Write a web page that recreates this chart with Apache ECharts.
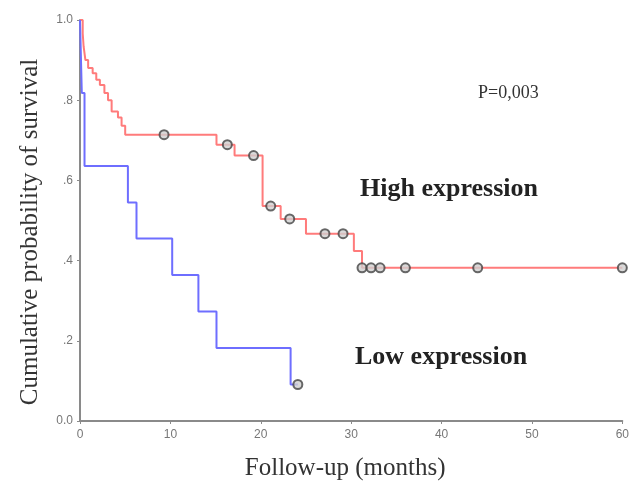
<!DOCTYPE html>
<html>
<head>
<meta charset="utf-8">
<script src="https://cdn.jsdelivr.net/npm/echarts@6/dist/echarts.min.js"></script>
<style>
  html, body { margin: 0; padding: 0; background: #fff; }
  #chart { width: 632px; height: 486px; }
</style>
</head>
<body>
<div id="chart"></div>
<script>
// 高表达组 (time in months, survival after the event)
var highTimes = [0, 0.3, 0.4, 0.6, 0.9, 1.4, 1.8, 2.2, 2.7, 3.1, 3.5, 4.2, 4.6, 5.0, 15.1, 17.1, 20.2, 22.2, 25.0, 30.3, 31.2, 60];
var highSurv  = [1.0, 0.967, 0.934, 0.90, 0.88, 0.867, 0.851, 0.838, 0.818, 0.80, 0.772, 0.757, 0.736, 0.714, 0.689, 0.662, 0.536, 0.504, 0.467, 0.424, 0.382, 0.382];
var highCensorTimes = [9.3, 16.3, 19.2, 21.1, 23.2, 27.1, 29.1, 31.2, 32.2, 33.2, 36.0, 44.0, 60.0];
var highCensorSurv  = [0.714, 0.689, 0.662, 0.536, 0.504, 0.467, 0.467, 0.382, 0.382, 0.382, 0.382, 0.382, 0.382];

// 低表达组
var lowTimes = [0, 0.2, 0.5, 5.3, 6.25, 10.2, 13.1, 15.1, 23.3, 24.1];
var lowSurv  = [1.0, 0.818, 0.636, 0.545, 0.455, 0.364, 0.273, 0.182, 0.091, 0.091];
var lowCensorTimes = [24.1];
var lowCensorSurv  = [0.091];

// tick labels
var yTickLabels = { '0': '0.0', '0.2': '.2', '0.4': '.4', '0.6': '.6', '0.8': '.8', '1': '1.0' };

function pairs(xs, ys) {
  return xs.map(function (x, i) { return [x, ys[i]]; });
}

var serif = '"Liberation Serif", "DejaVu Serif", serif';
var censorStyle = { color: '#d0d0d0', borderColor: '#444', borderWidth: 2 };

var myChart = echarts.init(document.getElementById('chart'));
myChart.setOption({
  animation: false,
  grid: { left: 80, right: 8, top: 20, bottom: 64 },
  xAxis: {
    type: 'value',
    min: 0, max: 60, interval: 10,
    name: 'Follow-up (months)',
    nameLocation: 'middle',
    nameGap: 35,
    nameTextStyle: { fontFamily: serif, fontSize: 25, color: '#333', padding: [0, 12, 0, 0] },
    axisLine: { lineStyle: { color: '#8a8a8a', width: 2 } },
    axisTick: { length: 3, lineStyle: { color: '#8a8a8a' } },
    axisLabel: { color: '#777', fontSize: 12, margin: 8 },
    splitLine: { show: false }
  },
  yAxis: {
    type: 'value',
    min: 0, max: 1, interval: 0.2,
    axisLine: { show: true, lineStyle: { color: '#8a8a8a', width: 2 } },
    axisTick: { show: true, length: 3, lineStyle: { color: '#8a8a8a' } },
    axisLabel: {
      color: '#777', fontSize: 12, margin: 7,
      formatter: function (v) { return yTickLabels[String(Math.round(v * 10) / 10)]; }
    },
    splitLine: { show: false }
  },
  graphic: [
    // 纵轴标题
    {
      type: 'text', x: 30, y: 232, rotation: Math.PI / 2,
      style: { text: 'Cumulative probability of survival', font: '25px ' + serif, fill: '#333', align: 'center', verticalAlign: 'middle' }
    },
    { type: 'text', left: 478, top: 84, style: { text: 'P=0,003', font: '18px ' + serif, fill: '#333' } },
    { type: 'text', left: 360, top: 176, style: { text: 'High expression', font: 'bold 26px ' + serif, fill: '#222' } },
    { type: 'text', left: 355, top: 344, style: { text: 'Low expression', font: 'bold 26px ' + serif, fill: '#222' } }
  ],
  series: [
    {
      name: 'High expression',
      type: 'line',
      step: 'end',
      showSymbol: false,
      lineStyle: { color: '#ff7b7b', width: 2 },
      data: pairs(highTimes, highSurv),
      z: 2
    },
    {
      name: 'Low expression',
      type: 'line',
      step: 'end',
      showSymbol: false,
      lineStyle: { color: '#6e6eff', width: 2 },
      data: pairs(lowTimes, lowSurv),
      z: 3
    },
    {
      name: 'High censored',
      type: 'scatter',
      symbol: 'circle',
      symbolSize: 9,
      itemStyle: censorStyle,
      data: pairs(highCensorTimes, highCensorSurv),
      z: 4
    },
    {
      name: 'Low censored',
      type: 'scatter',
      symbol: 'circle',
      symbolSize: 9,
      itemStyle: censorStyle,
      data: pairs(lowCensorTimes, lowCensorSurv),
      z: 4
    }
  ]
});
</script>
</body>
</html>
